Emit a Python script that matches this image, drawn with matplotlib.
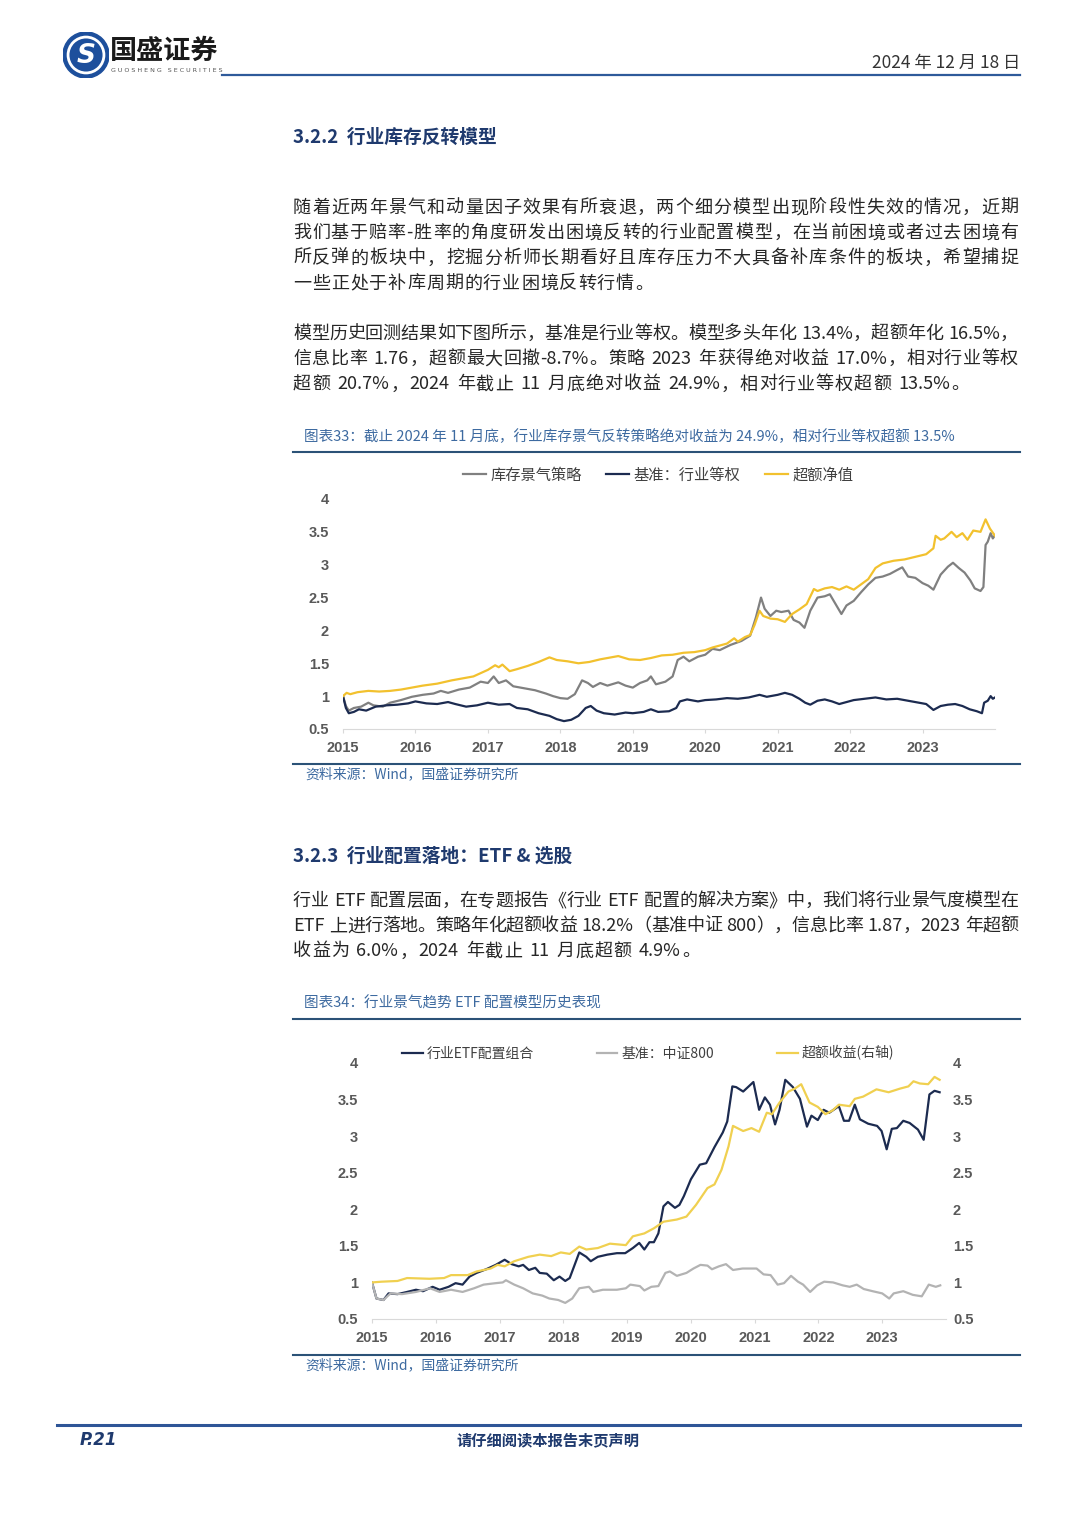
import re
import matplotlib
matplotlib.use('Agg')
import matplotlib.pyplot as plt
from matplotlib.lines import Line2D
from matplotlib.patches import Circle

plt.rcParams['font.family'] = ['Noto Sans CJK SC', 'DejaVu Sans']

# ---------------- data: chart 33 (daily) ----------------
inv_x = [2015.00, 2015.04, 2015.08, 2015.15, 2015.25, 2015.35, 2015.42, 2015.55, 2015.65, 2015.80,
         2015.95, 2016.10, 2016.25, 2016.35, 2016.45, 2016.60, 2016.75, 2016.90, 2017.00, 2017.08,
         2017.15, 2017.25, 2017.35, 2017.50, 2017.65, 2017.80, 2017.90, 2018.00, 2018.10, 2018.20,
         2018.30, 2018.38, 2018.45, 2018.55, 2018.65, 2018.80, 2018.90, 2019.00, 2019.10, 2019.20,
         2019.25, 2019.32, 2019.45, 2019.55, 2019.62, 2019.70, 2019.78, 2019.90, 2020.00, 2020.10,
         2020.20, 2020.35, 2020.50, 2020.62, 2020.70, 2020.77, 2020.82, 2020.90, 2020.98, 2021.05,
         2021.15, 2021.22, 2021.30, 2021.37, 2021.45, 2021.55, 2021.65, 2021.72, 2021.80, 2021.88,
         2021.95, 2022.05, 2022.15, 2022.25, 2022.35, 2022.45, 2022.55, 2022.65, 2022.72, 2022.80,
         2022.90, 2023.00, 2023.08, 2023.15, 2023.25, 2023.35, 2023.42, 2023.50, 2023.58, 2023.66,
         2023.72, 2023.80, 2023.84, 2023.87, 2023.90, 2023.94, 2023.97, 2024.00]
inv_y = [1.00, 0.85, 0.78, 0.82, 0.84, 0.90, 0.86, 0.84, 0.90, 0.94,
         0.99, 1.02, 1.04, 1.08, 1.05, 1.10, 1.13, 1.22, 1.20, 1.30,
         1.20, 1.24, 1.15, 1.12, 1.09, 1.04, 1.00, 0.97, 0.96, 1.03,
         1.24, 1.20, 1.14, 1.20, 1.16, 1.21, 1.16, 1.13, 1.20, 1.24,
         1.30, 1.18, 1.22, 1.30, 1.55, 1.60, 1.53, 1.60, 1.63, 1.72,
         1.70, 1.78, 1.84, 1.92, 2.20, 2.50, 2.33, 2.22, 2.30, 2.28,
         2.30, 2.16, 2.12, 2.04, 2.30, 2.50, 2.52, 2.55, 2.40, 2.25,
         2.38, 2.45, 2.58, 2.70, 2.80, 2.82, 2.86, 2.92, 2.96, 2.82,
         2.80, 2.72, 2.68, 2.62, 2.85, 2.97, 3.03, 2.95, 2.88, 2.76,
         2.64, 2.60, 2.66, 3.30, 3.35, 3.48, 3.40, 3.45]

bm_x = [2015.00, 2015.04, 2015.08, 2015.15, 2015.22, 2015.32, 2015.45, 2015.60, 2015.75, 2015.90,
        2016.00, 2016.15, 2016.30, 2016.45, 2016.55, 2016.70, 2016.85, 2017.00, 2017.15, 2017.30,
        2017.40, 2017.55, 2017.70, 2017.85, 2017.95, 2018.05, 2018.15, 2018.25, 2018.35, 2018.42,
        2018.50, 2018.60, 2018.75, 2018.90, 2019.00, 2019.15, 2019.25, 2019.35, 2019.50, 2019.60,
        2019.65, 2019.75, 2019.90, 2020.00, 2020.15, 2020.30, 2020.45, 2020.60, 2020.75, 2020.85,
        2021.00, 2021.10, 2021.20, 2021.30, 2021.38, 2021.45, 2021.55, 2021.65, 2021.75, 2021.85,
        2021.95, 2022.05, 2022.20, 2022.35, 2022.50, 2022.65, 2022.80, 2022.95, 2023.05, 2023.15,
        2023.25, 2023.35, 2023.45, 2023.55, 2023.65, 2023.75, 2023.82, 2023.85, 2023.90, 2023.94,
        2023.97, 2024.00]
bm_y = [1.00, 0.82, 0.74, 0.76, 0.80, 0.78, 0.84, 0.86, 0.87, 0.89,
        0.92, 0.89, 0.88, 0.91, 0.88, 0.84, 0.86, 0.90, 0.87, 0.88,
        0.82, 0.80, 0.74, 0.70, 0.65, 0.62, 0.64, 0.70, 0.82, 0.85,
        0.78, 0.74, 0.72, 0.75, 0.74, 0.76, 0.80, 0.76, 0.77, 0.82,
        0.92, 0.95, 0.92, 0.94, 0.95, 0.97, 0.96, 0.98, 1.02, 0.99,
        1.02, 1.05, 1.02, 0.96, 0.90, 0.87, 0.93, 0.95, 0.92, 0.88,
        0.91, 0.94, 0.96, 0.98, 0.95, 0.96, 0.93, 0.90, 0.88, 0.79,
        0.85, 0.87, 0.88, 0.85, 0.80, 0.77, 0.74, 0.90, 0.93, 1.00,
        0.96, 0.98]

ex_x = [2015.00, 2015.05, 2015.10, 2015.20, 2015.35, 2015.50, 2015.65, 2015.80, 2015.95, 2016.10,
        2016.30, 2016.50, 2016.65, 2016.80, 2016.90, 2017.00, 2017.10, 2017.15, 2017.20, 2017.30,
        2017.40, 2017.55, 2017.70, 2017.85, 2017.95, 2018.10, 2018.25, 2018.40, 2018.55, 2018.70,
        2018.80, 2018.95, 2019.10, 2019.25, 2019.40, 2019.55, 2019.70, 2019.85, 2020.00, 2020.10,
        2020.20, 2020.30, 2020.40, 2020.45, 2020.55, 2020.62, 2020.68, 2020.75, 2020.80, 2020.90,
        2021.00, 2021.10, 2021.20, 2021.30, 2021.40, 2021.50, 2021.55, 2021.65, 2021.75, 2021.85,
        2021.95, 2022.05, 2022.15, 2022.25, 2022.35, 2022.45, 2022.60, 2022.75, 2022.90, 2023.05,
        2023.15, 2023.18, 2023.25, 2023.30, 2023.40, 2023.47, 2023.55, 2023.62, 2023.70, 2023.80,
        2023.87, 2023.93, 2024.00]
ex_y = [1.00, 1.05, 1.03, 1.06, 1.08, 1.07, 1.08, 1.10, 1.13, 1.16,
        1.19, 1.24, 1.27, 1.30, 1.35, 1.40, 1.47, 1.44, 1.48, 1.38,
        1.41, 1.46, 1.52, 1.59, 1.55, 1.53, 1.50, 1.52, 1.56, 1.59,
        1.61, 1.56, 1.55, 1.58, 1.62, 1.63, 1.66, 1.67, 1.70, 1.74,
        1.77, 1.80, 1.88, 1.83, 1.90, 1.93, 2.08, 2.30, 2.22, 2.18,
        2.17, 2.13, 2.25, 2.32, 2.40, 2.63, 2.60, 2.64, 2.66, 2.62,
        2.67, 2.62, 2.70, 2.78, 2.95, 3.02, 3.06, 3.08, 3.12, 3.16,
        3.25, 3.44, 3.38, 3.40, 3.50, 3.42, 3.48, 3.38, 3.52, 3.50,
        3.69, 3.55, 3.44]

# ---------------- data: chart 34 (monthly) ----------------
etf_x = [2015.00, 2015.07, 2015.18, 2015.26, 2015.40, 2015.55, 2015.69, 2015.80, 2015.95, 2016.06,
         2016.20, 2016.31, 2016.42, 2016.53, 2016.64, 2016.79, 2016.94, 2017.08, 2017.19, 2017.30,
         2017.37, 2017.46, 2017.56, 2017.63, 2017.74, 2017.85, 2017.94, 2018.03, 2018.10, 2018.25,
         2018.36, 2018.43, 2018.54, 2018.69, 2018.84, 2018.97, 2019.09, 2019.19, 2019.27, 2019.35,
         2019.42, 2019.49, 2019.57, 2019.64, 2019.75, 2019.82, 2019.89, 2020.00, 2020.14, 2020.24,
         2020.37, 2020.50, 2020.57, 2020.65, 2020.71, 2020.82, 2020.98, 2021.07, 2021.16, 2021.24,
         2021.32, 2021.39, 2021.48, 2021.60, 2021.71, 2021.82, 2021.89, 2021.99, 2022.08, 2022.17,
         2022.32, 2022.40, 2022.48, 2022.57, 2022.65, 2022.78, 2022.92, 2022.99, 2023.07, 2023.15,
         2023.23, 2023.33, 2023.43, 2023.56, 2023.65, 2023.74, 2023.82, 2023.90]
etf_y = [1.00, 0.78, 0.76, 0.85, 0.84, 0.87, 0.90, 0.88, 0.94, 0.90,
         0.94, 0.99, 0.97, 1.08, 1.13, 1.18, 1.24, 1.31, 1.25, 1.22,
         1.24, 1.17, 1.20, 1.13, 1.12, 1.03, 1.08, 1.02, 1.06, 1.41,
         1.35, 1.29, 1.35, 1.38, 1.40, 1.40, 1.47, 1.54, 1.45, 1.55,
         1.55, 1.67, 2.04, 2.10, 2.02, 2.06, 2.18, 2.41, 2.61, 2.63,
         2.85, 3.05, 3.20, 3.68, 3.67, 3.61, 3.74, 3.36, 3.53, 3.43,
         3.16, 3.36, 3.77, 3.67, 3.51, 3.13, 3.28, 3.22, 3.36, 3.32,
         3.41, 3.21, 3.21, 3.43, 3.23, 3.17, 3.14, 3.07, 2.82, 3.10,
         3.11, 3.21, 3.18, 3.09, 2.95, 3.57, 3.62, 3.60]

csi_x = [2015.00, 2015.07, 2015.18, 2015.29, 2015.47, 2015.69, 2015.91, 2016.06, 2016.24, 2016.42,
         2016.60, 2016.75, 2016.94, 2017.05, 2017.10, 2017.23, 2017.37, 2017.52, 2017.67, 2017.78,
         2017.92, 2018.03, 2018.14, 2018.25, 2018.40, 2018.47, 2018.62, 2018.84, 2018.98, 2019.05,
         2019.20, 2019.27, 2019.38, 2019.49, 2019.60, 2019.67, 2019.78, 2019.93, 2020.04, 2020.15,
         2020.26, 2020.33, 2020.44, 2020.55, 2020.66, 2020.81, 2021.03, 2021.14, 2021.25, 2021.36,
         2021.46, 2021.57, 2021.68, 2021.76, 2021.87, 2021.98, 2022.09, 2022.23, 2022.38, 2022.49,
         2022.60, 2022.71, 2022.85, 2023.00, 2023.11, 2023.18, 2023.33, 2023.48, 2023.62, 2023.73,
         2023.84, 2023.91]
csi_y = [1.00, 0.78, 0.76, 0.85, 0.84, 0.87, 0.92, 0.87, 0.90, 0.87,
         0.92, 0.97, 0.99, 1.00, 1.03, 0.97, 0.92, 0.85, 0.82, 0.78,
         0.76, 0.72, 0.78, 0.92, 0.94, 0.87, 0.90, 0.90, 0.92, 0.97,
         0.95, 0.89, 0.94, 0.95, 1.13, 1.15, 1.09, 1.13, 1.19, 1.24,
         1.23, 1.18, 1.22, 1.25, 1.17, 1.19, 1.19, 1.11, 1.10, 0.97,
         0.99, 1.09, 1.01, 0.97, 0.87, 0.96, 1.01, 1.00, 0.96, 0.94,
         0.97, 0.91, 0.88, 0.85, 0.78, 0.85, 0.88, 0.83, 0.81, 0.97,
         0.94, 0.96]

ex2_x = [2015.00, 2015.15, 2015.40, 2015.55, 2015.90, 2016.13, 2016.24, 2016.50, 2016.64, 2016.86,
         2016.97, 2017.08, 2017.23, 2017.45, 2017.63, 2017.81, 2017.96, 2018.10, 2018.25, 2018.36,
         2018.54, 2018.73, 2018.98, 2019.09, 2019.27, 2019.42, 2019.57, 2019.78, 2019.93, 2020.08,
         2020.26, 2020.37, 2020.48, 2020.59, 2020.66, 2020.82, 2020.95, 2021.07, 2021.19, 2021.27,
         2021.39, 2021.53, 2021.63, 2021.73, 2021.86, 2021.99, 2022.11, 2022.22, 2022.32, 2022.49,
         2022.57, 2022.70, 2022.91, 2023.10, 2023.28, 2023.41, 2023.49, 2023.59, 2023.72, 2023.82,
         2023.90]
ex2_y = [1.00, 1.01, 1.02, 1.06, 1.05, 1.06, 1.10, 1.10, 1.15, 1.19,
         1.24, 1.22, 1.29, 1.35, 1.38, 1.36, 1.41, 1.39, 1.49, 1.45,
         1.47, 1.53, 1.51, 1.63, 1.67, 1.74, 1.83, 1.86, 1.90, 2.06,
         2.29, 2.34, 2.54, 2.86, 3.14, 3.07, 3.11, 3.06, 3.32, 3.30,
         3.46, 3.61, 3.65, 3.71, 3.46, 3.40, 3.30, 3.35, 3.43, 3.41,
         3.51, 3.54, 3.64, 3.60, 3.65, 3.68, 3.75, 3.72, 3.71, 3.81,
         3.77]

years = list(range(2015, 2024))
yticks = [0.5, 1, 1.5, 2, 2.5, 3, 3.5, 4]
ylabels = ['0.5', '1', '1.5', '2', '2.5', '3', '3.5', '4']

# ---------------- page ----------------
W, H = 1080, 1527
fig = plt.figure(figsize=(W / 100, H / 100), dpi=100)
fig.patch.set_facecolor('white')


def fx(px):
    return px / W


def fy(py):
    return 1 - py / H


def hline(y, x0, x1, color, lw):
    fig.add_artist(Line2D([fx(x0), fx(x1)], [fy(y), fy(y)], transform=fig.transFigure, color=color, lw=lw))


BODY = '#262626'
NAVY = '#1f3a6e'
CAP = '#3d6aa0'

# logo
lax = fig.add_axes([fx(63), fy(78), 46 / W, 46 / H])
lax.set_xlim(-1, 1)
lax.set_ylim(-1, 1)
lax.set_aspect('equal')
lax.axis('off')
lax.add_patch(Circle((0, 0), 1, color='#1d4f9c'))
lax.add_patch(Circle((0, 0), 0.78, fill=False, ec='white', lw=2))
lax.text(0, -0.05, 'S', color='white', ha='center', va='center', fontsize=19, weight='bold', style='italic',
         family='DejaVu Sans')
fig.text(fx(110), fy(51), '国盛证券', fontsize=19.5, weight='bold', color='#1a1a1a', va='center')
fig.text(fx(111), fy(70), 'G U O S H E N G   S E C U R I T I E S', fontsize=4.6, color='#555555', va='center',
         family='DejaVu Sans')
hline(75, 222, 1020, '#2e5a9a', 1.6)
fig.text(fx(1020), fy(63), '2024 年 12 月 18 日', fontsize=12.5, color='#333333', ha='right', va='center')


def para_line(s, y, x0=293, x1=1018, full=True, size=13, color=BODY):
    toks = re.findall(r'[A-Za-z0-9.%&\-]+|.', s)
    r = fig.canvas.get_renderer()
    items = []
    for t in toks:
        if t == ' ':
            items.append((None, size * 0.3 * 100 / 72))
        else:
            o = fig.text(0, fy(y), t, fontsize=size, color=color, va='center')
            items.append((o, o.get_window_extent(r).width))
    total = sum(w for _, w in items)
    gap = (x1 - x0 - total) / (len(items) - 1) if full else 1.0
    x = x0
    for o, w in items:
        if o is not None:
            o.set_x(fx(x))
        x += w + gap


fig.text(fx(293), fy(137), '3.2.2  行业库存反转模型', fontsize=13.5, weight='bold', color=NAVY, va='center')
p1 = ['随着近两年景气和动量因子效果有所衰退，两个细分模型出现阶段性失效的情况，近期',
      '我们基于赔率-胜率的角度研发出困境反转的行业配置模型，在当前困境或者过去困境有',
      '所反弹的板块中，挖掘分析师长期看好且库存压力不大具备补库条件的板块，希望捕捉',
      '一些正处于补库周期的行业困境反转行情。']
for i, s in enumerate(p1):
    para_line(s, 208 + i * 25.2, full=(i < len(p1) - 1))
p2 = ['模型历史回测结果如下图所示，基准是行业等权。模型多头年化 13.4%，超额年化 16.5%，',
      '信息比率 1.76，超额最大回撤-8.7%。策略 2023 年获得绝对收益 17.0%，相对行业等权',
      '超额 20.7%，2024 年截止 11 月底绝对收益 24.9%，相对行业等权超额 13.5%。']
for i, s in enumerate(p2):
    para_line(s, 334 + i * 25.2, full=(i < len(p2) - 1))

fig.text(fx(304), fy(437), '图表33：截止 2024 年 11 月底，行业库存景气反转策略绝对收益为 24.9%，相对行业等权超额 13.5%',
         fontsize=10.5, color=CAP, style='italic', va='center')
hline(452, 293, 1020, '#2b5277', 1.5)
hline(764, 293, 1020, '#2b5277', 1.5)
fig.text(fx(305), fy(774), '资料来源：Wind，国盛证券研究所', fontsize=10, color=CAP, style='italic', va='center')

fig.text(fx(293), fy(856), '3.2.3  行业配置落地：ETF & 选股', fontsize=13.5, weight='bold', color=NAVY, va='center')
p3 = ['行业 ETF 配置层面，在专题报告《行业 ETF 配置的解决方案》中，我们将行业景气度模型在',
      'ETF 上进行落地。策略年化超额收益 18.2%（基准中证 800），信息比率 1.87，2023 年超额',
      '收益为 6.0%，2024 年截止 11 月底超额 4.9%。']
for i, s in enumerate(p3):
    para_line(s, 901 + i * 25.2, full=(i < len(p3) - 1))

fig.text(fx(304), fy(1003), '图表34：行业景气趋势 ETF 配置模型历史表现', fontsize=10.5, color=CAP, style='italic', va='center')
hline(1019, 293, 1020, '#2b5277', 1.5)
hline(1355, 293, 1020, '#2b5277', 1.5)
fig.text(fx(305), fy(1365), '资料来源：Wind，国盛证券研究所', fontsize=10, color=CAP, style='italic', va='center')

hline(1425, 57, 1020, '#2e5597', 2.2)
fig.text(fx(80), fy(1440), 'P.21', fontsize=12, weight='bold', style='italic', color=NAVY, va='center',
         family='DejaVu Sans')
fig.text(fx(548), fy(1440), '请仔细阅读本报告末页声明', fontsize=11, weight='bold', color=NAVY, ha='center', va='center')

TICK = dict(fontsize=10.5, fontweight='bold', color='#595959', fontfamily='Liberation Sans')


def style_axes(ax):
    for s in ['top', 'right', 'left']:
        ax.spines[s].set_visible(False)
    ax.spines['bottom'].set_color('#d9d9d9')
    ax.set_xlim(2015, 2024.0)
    ax.set_ylim(0.5, 4)
    ax.set_xticks(years, [str(y) for y in years], **TICK)
    ax.set_yticks(yticks, ylabels, **TICK)
    ax.tick_params(axis='x', length=3, color='#d9d9d9', pad=6)
    ax.tick_params(axis='y', length=0, pad=10)
    ax.patch.set_alpha(0)


# ---------------- chart 33 ----------------
ax1 = fig.add_axes([fx(343), fy(729), (995 - 343) / W, (729 - 499) / H])
style_axes(ax1)
l1, = ax1.plot(inv_x, inv_y, color='#808080', lw=1.6, label='库存景气策略')
l2, = ax1.plot(bm_x, bm_y, color='#1c2b50', lw=1.6, label='基准：行业等权')
l3, = ax1.plot(ex_x, ex_y, color='#f2c12e', lw=1.6, label='超额净值')
ax1.legend(handles=[l1, l2, l3], loc='center', bbox_to_anchor=(fx(658), fy(475)), bbox_transform=fig.transFigure,
           ncol=3, frameon=False, fontsize=11, handlelength=1.5, handletextpad=0.3, columnspacing=1.6,
           labelcolor='#404040')

# ---------------- chart 34 ----------------
ax2 = fig.add_axes([fx(372), fy(1319), (946 - 372) / W, (1319 - 1063) / H])
style_axes(ax2)
axr = ax2.twinx()
for s in axr.spines.values():
    s.set_visible(False)
axr.set_ylim(0.5, 4)
axr.set_yticks(yticks, ylabels, **TICK)
axr.tick_params(axis='y', length=0, pad=5)
m1, = ax2.plot(etf_x, etf_y, color='#1c2b50', lw=1.6, label='行业ETF配置组合')
m2, = ax2.plot(csi_x, csi_y, color='#b3b3b3', lw=1.6, label='基准：中证800')
m3, = axr.plot(ex2_x, ex2_y, color='#f0d050', lw=1.6, label='超额收益(右轴)')
ax2.legend(handles=[m1, m2, m3], loc='center', bbox_to_anchor=(fx(648), fy(1053)), bbox_transform=fig.transFigure,
           ncol=3, frameon=False, fontsize=10, handlelength=1.5, handletextpad=0.3, columnspacing=4.5,
           labelcolor='#404040')

fig.savefig('out.png', dpi=100)
